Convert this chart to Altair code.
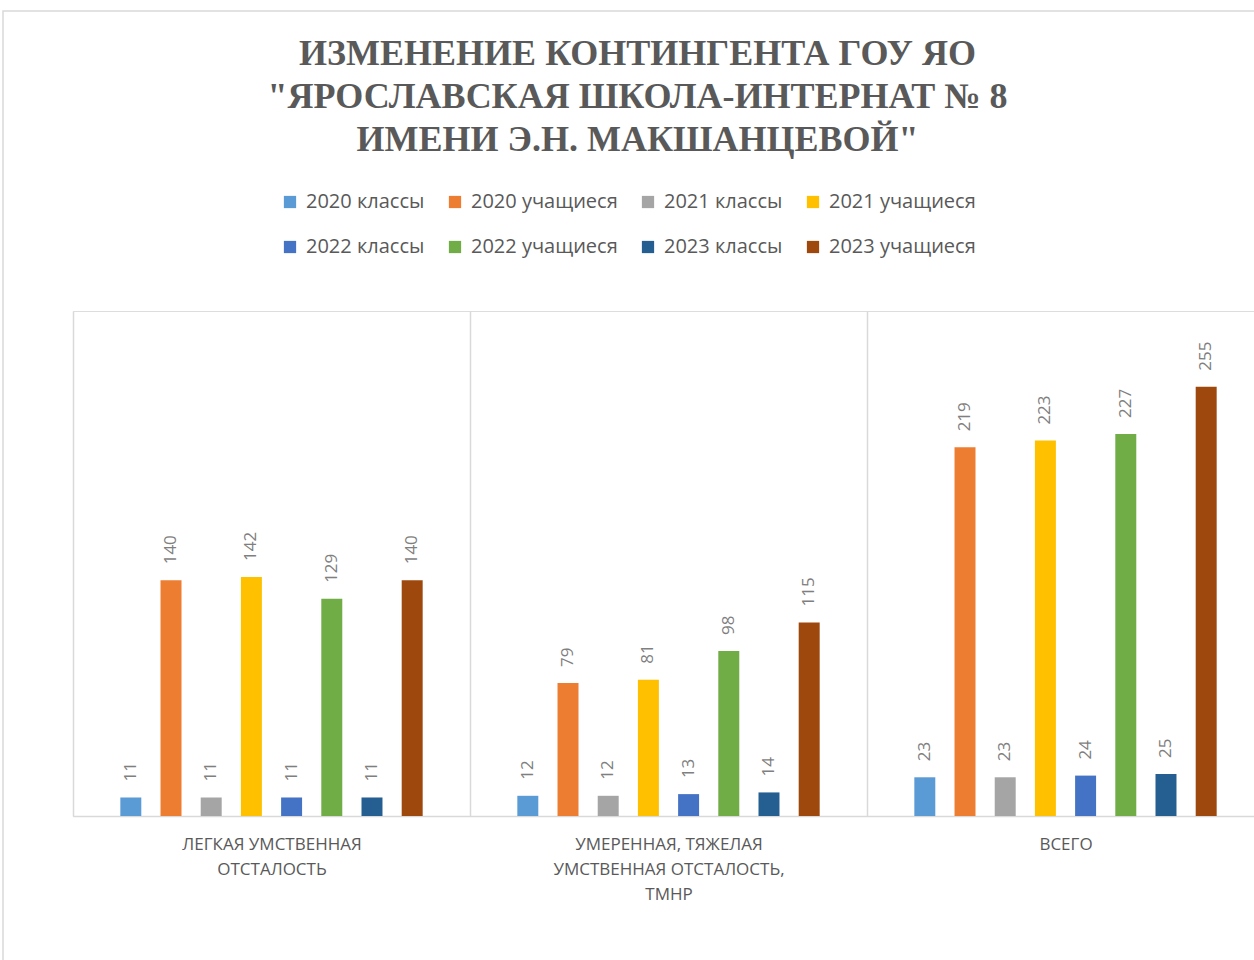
import altair as alt
import pandas as pd

title_lines = [
    "ИЗМЕНЕНИЕ КОНТИНГЕНТА ГОУ ЯО",
    "\"ЯРОСЛАВСКАЯ ШКОЛА-ИНТЕРНАТ № 8",
    "ИМЕНИ Э.Н. МАКШАНЦЕВОЙ\"",
]

categories = [
    "ЛЕГКАЯ УМСТВЕННАЯ|ОТСТАЛОСТЬ",
    "УМЕРЕННАЯ, ТЯЖЕЛАЯ|УМСТВЕННАЯ ОТСТАЛОСТЬ,|ТМНР",
    "ВСЕГО",
]

series = [
    "2020 классы", "2020 учащиеся", "2021 классы", "2021 учащиеся",
    "2022 классы", "2022 учащиеся", "2023 классы", "2023 учащиеся",
]

colors = [
    "#5b9bd5", "#ed7d31", "#a5a5a5", "#ffc000",
    "#4472c4", "#70ad47", "#255e91", "#9e480e",
]

values_light = [11, 140, 11, 142, 11, 129, 11, 140]
values_moderate = [12, 79, 12, 81, 13, 98, 14, 115]
values_total = [23, 219, 23, 223, 24, 227, 25, 255]

rows = []
for cat, vals in zip(categories, [values_light, values_moderate, values_total]):
    for s, v in zip(series, vals):
        rows.append({"category": cat, "series": s, "value": v})
df = pd.DataFrame(rows)

GRAY = "#595959"

base = alt.Chart(df).encode(
    x=alt.X(
        "category:N",
        sort=categories,
        scale=alt.Scale(range=[0, 1191], paddingInner=0.19, paddingOuter=0.095),
        axis=alt.Axis(
            title=None,
            labelExpr="split(datum.label, '|')",
            labelAngle=0,
            labelFont="Open Sans",
            labelFontSize=17,
            labelColor=GRAY,
            labelLineHeight=25,
            labelPadding=20,
            labelLimit=0,
            ticks=False,
            grid=True,
            gridColor="#d9d9d9",
            gridWidth=1.5,
            bandPosition=0,
            tickOffset=-37.7,
            labelOffset=37.7,
            domainColor="#d9d9d9",
            domainWidth=1.5,
        ),
    ),
    xOffset=alt.XOffset(
        "series:N",
        sort=series,
        scale=alt.Scale(paddingInner=0.478, paddingOuter=0.239),
    ),
    y=alt.Y("value:Q", scale=alt.Scale(domain=[0, 300]), axis=None),
)

bars = base.mark_bar().encode(
    color=alt.Color(
        "series:N",
        sort=series,
        scale=alt.Scale(domain=series, range=colors),
        legend=alt.Legend(
            title=None,
            orient="none",
            legendX=207,
            legendY=-119,
            direction="horizontal",
            columns=4,
            columnPadding=20,
            rowPadding=25,
            symbolType="square",
            symbolSize=150,
            symbolStrokeWidth=0,
            labelFont="Open Sans",
            labelFontSize=20,
            labelColor=GRAY,
            labelOffset=6,
            labelLimit=0,
            padding=0,
        ),
    )
)

labels = base.mark_text(
    angle=270,
    align="left",
    baseline="middle",
    dx=16,
    font="Open Sans",
    fontSize=17,
    color="#7f7f7f",
).encode(text="value:Q")

border = alt.Chart(pd.DataFrame({"a": [0]})).mark_rect(
    fillOpacity=0, stroke="#d9d9d9", strokeWidth=1.5
).encode(
    x=alt.value(-70), x2=alt.value(1300), y=alt.value(-300), y2=alt.value(800)
)

chart = alt.layer(border, bars, labels).properties(
    width=1181,
    height=505,
    padding={"left": 73, "top": 311, "right": 0, "bottom": 144},
    autosize=alt.AutoSizeParams(type="none"),
    title=alt.TitleParams(
        text=title_lines,
        font="Liberation Serif",
        fontSize=36,
        fontWeight="bold",
        color=GRAY,
        lineHeight=43,
        anchor="middle",
        dx=-26,
        dy=153,
    ),
).configure_view(stroke=None).configure(background="white")

chart.save("out.html", embed_options={"renderer": "svg", "actions": False})
